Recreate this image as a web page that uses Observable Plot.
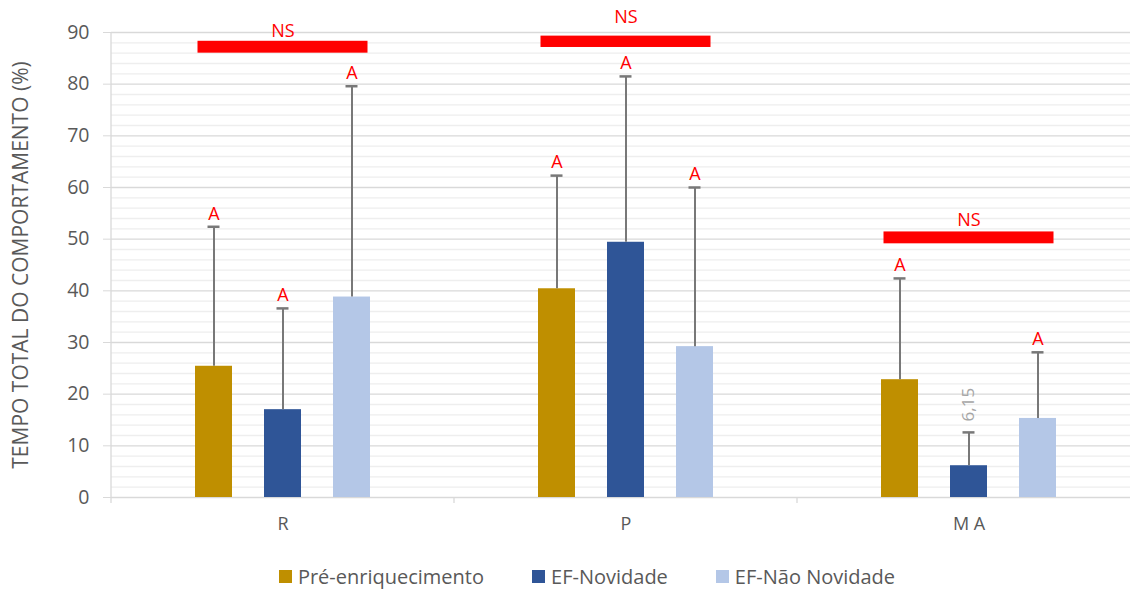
<!DOCTYPE html>
<html>
<head>
<meta charset="utf-8">
<script src="https://cdn.jsdelivr.net/npm/d3@7"></script>
<script src="https://cdn.jsdelivr.net/npm/@observablehq/plot@0.6"></script>
<style>
  html, body { margin: 0; padding: 0; background: #fff; overflow: hidden; }
  body { width: 1130px; height: 589px; font-family: "Open Sans", sans-serif; }
  #legend { display: flex; justify-content: center; align-items: center; height: 34px;
            padding-left: 44px; margin-top: 4px; color: #595959; font-size: 20px; }
  .item { display: flex; align-items: center; margin: 0 24px; white-space: nowrap; }
  .swatch { width: 13px; height: 13px; margin-right: 6px; }
</style>
</head>
<body>
<div id="chart"></div>
<div id="legend"></div>
<script>
// Behaviour categories and treatment series
const categories = ["R", "P", "M A"];
const series = ["Pré-enriquecimento", "EF-Novidade", "EF-Não Novidade"];
const colors = ["#BF8F00", "#2F5597", "#B4C7E7"];

// Mean total time (%) per category, one array per series
const preMeans = [25.4, 40.4, 22.8];
const novMeans = [17.0, 49.4, 6.15];
const naoMeans = [38.8, 29.2, 15.3];

// Upper end of each error bar
const preUpper = [52.4, 62.3, 42.4];
const novUpper = [36.6, 81.5, 12.6];
const naoUpper = [79.6, 60.0, 28.1];

// Significance letters above the error bars
const preLetters = ["A", "A", "A"];
const novLetters = ["A", "A", ""];
const naoLetters = ["A", "A", "A"];

// Bars whose value is printed next to them
const novShowValue = [false, false, true];

// "NS" bracket bars over each category
const nsLow = [86.0, 87.1, 49.1];
const nsHigh = [88.3, 89.3, 51.4];
const nsLabelY = [90.2, 92.9, 53.6];
const nsLabel = ["NS", "NS", "NS"];

const yTicks = d3.range(0, 91, 10);
const yMinor = d3.range(0, 91, 2).filter(v => v % 10 !== 0);
const yTitle = "TEMPO TOTAL DO COMPORTAMENTO (%)";

const means = [preMeans, novMeans, naoMeans];
const uppers = [preUpper, novUpper, naoUpper];
const letters = [preLetters, novLetters, naoLetters];
const showValue = [[false, false, false], novShowValue, [false, false, false]];

const rows = categories.flatMap((cat, i) => series.map((s, j) => ({
  cat, series: s,
  mean: means[j][i],
  upper: uppers[j][i],
  letter: letters[j][i],
  valueText: showValue[j][i] ? means[j][i].toFixed(2).replace(".", ",") : ""
})));

const nsRows = categories.map((cat, i) => ({cat, low: nsLow[i], high: nsHigh[i], ly: nsLabelY[i], label: nsLabel[i]}));

const font = "'Open Sans', sans-serif";
const errColor = "#787878";

const chart = Plot.plot({
  width: 1140,
  height: 555,
  marginLeft: 110,
  marginRight: 0,
  marginTop: 32,
  marginBottom: 58,
  style: {fontFamily: font, maxWidth: "none", background: "#fff"},
  fx: {domain: categories, padding: 0, label: null},
  x: {domain: series, paddingInner: 0.47, paddingOuter: 1.19, axis: null},
  y: {domain: [0, 90], label: null},
  color: {domain: series, range: colors},
  marks: [
    Plot.ruleY(yMinor, {stroke: "#eeeeee", strokeWidth: 1.3}),
    Plot.ruleY(yTicks, {stroke: "#d9d9d9", strokeWidth: 1.3}),
    Plot.axisY({ticks: yTicks, tickSize: 8, tickPadding: 14, stroke: "#d9d9d9", fill: "#595959",
                fontSize: 19.5, label: null}),
    Plot.axisY({ticks: [], tickSize: 0, label: yTitle, labelAnchor: "center", labelOffset: 98,
                labelArrow: "none", fill: "#595959", fontSize: 21}),
    Plot.axisFx({anchor: "bottom", tickSize: 0, tickPadding: 20, fill: "#595959", fontSize: 18, label: null}),
    Plot.barY(rows, {fx: "cat", x: "series", y: "mean", fill: "series"}),
    Plot.ruleX(rows, {fx: "cat", x: "series", y1: "mean", y2: "upper", stroke: errColor, strokeWidth: 2}),
    Plot.tickY(rows, {fx: "cat", x: "series", y: "upper", stroke: errColor, strokeWidth: 2.5, inset: 12.5}),
    Plot.text(rows.filter(d => d.letter), {fx: "cat", x: "series", y: "upper", text: "letter",
              fill: "#ff0000", fontSize: 18, dy: -13}),
    Plot.text(rows.filter(d => d.valueText), {fx: "cat", x: "series", y: "upper", text: "valueText",
              rotate: -90, textAnchor: "start", dy: -11, fill: "#a6a6a6", fontSize: 17}),
    Plot.rect(nsRows, {fx: "cat", y1: "low", y2: "high", fill: "#ff0000", insetLeft: 86.5, insetRight: 86.5}),
    Plot.text(nsRows, {fx: "cat", y: "ly", text: "label", fill: "#ff0000", fontSize: 18})
  ]
});

// Vertical axis line and category separators, placed with the chart's own scales
const fx = chart.scale("fx");
const y = chart.scale("y");
const y0 = y.apply(0);
const extra = d3.select(chart).append("g").attr("stroke", "#d9d9d9").attr("stroke-width", 1.3);
const xLeft = fx.apply(categories[0]);
extra.append("line").attr("x1", xLeft).attr("x2", xLeft).attr("y1", y.apply(90)).attr("y2", y0 + 6);
categories.slice(1).forEach(c => {
  const xb = fx.apply(c);
  extra.append("line").attr("x1", xb).attr("x2", xb).attr("y1", y0).attr("y2", y0 + 6);
});

document.getElementById("chart").append(chart);

// Legend
const legend = d3.select("#legend");
series.forEach((s, i) => {
  const item = legend.append("div").attr("class", "item");
  item.append("div").attr("class", "swatch").style("background", colors[i]);
  item.append("span").text(s);
});
</script>
</body>
</html>
